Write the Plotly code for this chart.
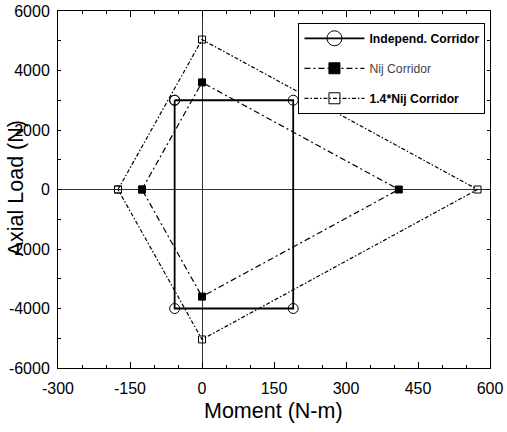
import plotly.graph_objects as go

# Data
indep_x = [-57, 190, 190, -57, -57]
indep_y = [3000, 3000, -4000, -4000, 3000]
nij_x = [-125, 0, 410, 0, -125]
nij_y = [0, 3600, 0, -3600, 0]
nij14_x = [-175, 0, 574, 0, -175]
nij14_y = [0, 5040, 0, -5040, 0]
names = ["<b>Independ. Corridor</b>",
         "<span style='color:#444'>Nij Corridor</span>",
         "<b>1.4*Nij Corridor</b>"]
x_ticks = [-300, -150, 0, 150, 300, 450, 600]
x_labels = ["-300", "-150", "0", "150", "300", "450", "600"]
y_ticks = [6000, 4000, 2000, 0, -2000, -4000, -6000]
y_labels = ["6000", "4000", "2000", "0", "-2000", "-4000", "-6000"]

FONT = "Liberation Sans, Arial, sans-serif"
fig = go.Figure()

styles = [
    dict(dash="solid", width=1.8, symbol="circle-open", size=10, lsize=15),
    dict(dash="6px,3px,2px,3px", width=1.2, symbol="square", size=7, lsize=11),
    dict(dash="4px,2px,1.5px,2px", width=1.2, symbol="square-open", size=7, lsize=11),
]
data = [(indep_x, indep_y), (nij_x, nij_y), (nij14_x, nij14_y)]

for (xs, ys), st in zip(data, styles):
    fig.add_trace(go.Scatter(
        x=xs, y=ys, mode="lines+markers", showlegend=False,
        line=dict(color="black", width=st["width"], dash=st["dash"]),
        marker=dict(symbol=st["symbol"], size=st["size"], color="black",
                    line=dict(color="black", width=1)),
    ))

for i, (name, st) in enumerate(zip(names, styles)):
    fig.add_trace(go.Scatter(
        x=[None], y=[None], mode="lines+markers", name=name,
        legendgroup=f"g{i}",
        line=dict(color="black", width=st["width"] if i == 0 else 1.2, dash=st["dash"]),
        marker=dict(symbol=st["symbol"], size=st["lsize"], color="black",
                    line=dict(color="black", width=1)),
    ))

axis_common = dict(
    showgrid=False, showline=True, linecolor="black", linewidth=1, mirror="ticks",
    ticks="inside", tickcolor="black", tickfont=dict(family=FONT, size=16, color="black"),
    zeroline=True, zerolinecolor="#333", zerolinewidth=1.2,
)

fig.update_xaxes(
    range=[-300, 600], tickvals=x_ticks, ticktext=x_labels, ticklen=6,
    minor=dict(dtick=50, tick0=0, ticklen=3, ticks="inside", tickcolor="black"),
    ticklabelstandoff=6,
    **axis_common,
)
fig.update_yaxes(
    range=[-6000, 6000], tickvals=y_ticks, ticktext=y_labels, ticklen=3,
    minor=dict(dtick=1000, tick0=0, ticklen=3, ticks="inside", tickcolor="black"),
    ticklabelstandoff=4,
    **axis_common,
)

fig.add_annotation(text="Axial Load (N)", xref="paper", yref="paper",
                   x=-0.0953, y=0.503, xanchor="center", yanchor="middle",
                   textangle=-90, showarrow=False,
                   font=dict(family=FONT, size=21.5, color="black"))
fig.add_annotation(text="Moment (N-m)", xref="paper", yref="paper",
                   x=0.4995, y=-0.1213, xanchor="center", yanchor="middle",
                   showarrow=False,
                   font=dict(family=FONT, size=21.5, color="black"))

fig.update_layout(
    width=507, height=432,
    margin=dict(l=58, r=17, t=11, b=64, autoexpand=False),
    plot_bgcolor="white", paper_bgcolor="white",
    legend=dict(x=0.5566, y=0.967, xanchor="left", yanchor="top",
                bgcolor="white", bordercolor="black", borderwidth=1,
                font=dict(family=FONT, size=12.2, color="black"),
                itemwidth=60, traceorder="grouped", tracegroupgap=11),
)

fig.write_html("out.html")
